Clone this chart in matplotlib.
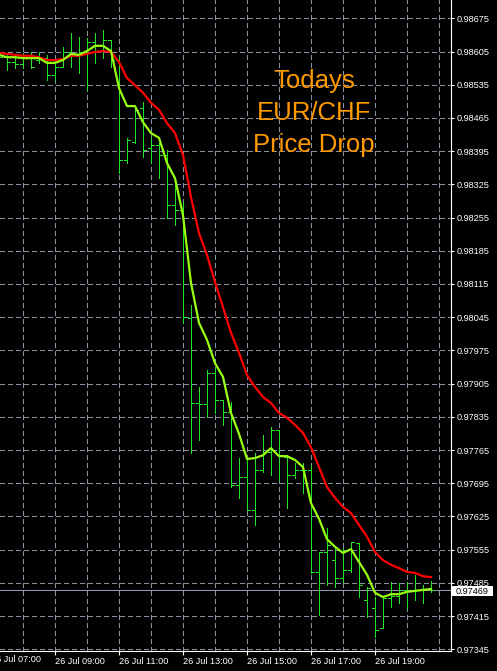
import numpy as np
import matplotlib
matplotlib.use('Agg')
import matplotlib.pyplot as plt
from matplotlib.patches import Rectangle

plt.rcParams['lines.scale_dashes'] = False
plt.rcParams['font.family'] = ['Liberation Sans', 'DejaVu Sans']

# ---------------- data (EUR/CHF, 26 Jul, 15-minute bars) ----------------
bar_time = np.arange(55) * 0.25 + 7.25   # hour of day for each bar

opens = [0.98598, 0.98593, 0.98583, 0.98579, 0.98591, 0.98587, 0.98591, 0.98555, 0.98572, 0.98604,
         0.98598, 0.98604, 0.98625, 0.98619, 0.98629, 0.98587, 0.98376, 0.98414, 0.98486, 0.98402,
         0.98408, 0.98387, 0.98282, 0.98271, 0.98043, 0.97864, 0.97862, 0.97927, 0.97870, 0.97845,
         0.97691, 0.97708, 0.97639, 0.97723, 0.97761, 0.97807, 0.97750, 0.97712, 0.97723, 0.97723,
         0.97508, 0.97550, 0.97533, 0.97495, 0.97512, 0.97569, 0.97449, 0.97432, 0.97390, 0.97453,
         0.97457, 0.97470, 0.97468, 0.97470, 0.97472]
highs = [0.98602, 0.98598, 0.98598, 0.98602, 0.98604, 0.98604, 0.98598, 0.98587, 0.98614, 0.98644,
         0.98636, 0.98633, 0.98644, 0.98650, 0.98629, 0.98593, 0.98423, 0.98490, 0.98499, 0.98425,
         0.98412, 0.98397, 0.98334, 0.98288, 0.98071, 0.97898, 0.97934, 0.97938, 0.97870, 0.97866,
         0.97748, 0.97748, 0.97759, 0.97797, 0.97814, 0.97807, 0.97755, 0.97738, 0.97738, 0.97733,
         0.97550, 0.97601, 0.97558, 0.97558, 0.97571, 0.97569, 0.97476, 0.97455, 0.97455, 0.97487,
         0.97485, 0.97487, 0.97502, 0.97480, 0.97489]
lows = [0.98583, 0.98566, 0.98570, 0.98570, 0.98570, 0.98581, 0.98545, 0.98545, 0.98572, 0.98572,
        0.98560, 0.98524, 0.98581, 0.98591, 0.98572, 0.98349, 0.98370, 0.98412, 0.98383, 0.98370,
        0.98338, 0.98254, 0.98239, 0.98033, 0.97759, 0.97786, 0.97835, 0.97843, 0.97818, 0.97687,
        0.97664, 0.97639, 0.97607, 0.97719, 0.97712, 0.97702, 0.97643, 0.97706, 0.97674, 0.97506,
        0.97417, 0.97480, 0.97476, 0.97487, 0.97508, 0.97455, 0.97413, 0.97371, 0.97390, 0.97434,
        0.97443, 0.97432, 0.97449, 0.97443, 0.97466]
closes = [0.98593, 0.98583, 0.98579, 0.98591, 0.98572, 0.98591, 0.98555, 0.98572, 0.98604, 0.98598,
          0.98604, 0.98625, 0.98619, 0.98629, 0.98587, 0.98376, 0.98419, 0.98482, 0.98397, 0.98408,
          0.98387, 0.98282, 0.98271, 0.98045, 0.97864, 0.97862, 0.97927, 0.97870, 0.97845, 0.97691,
          0.97708, 0.97639, 0.97723, 0.97761, 0.97807, 0.97755, 0.97712, 0.97723, 0.97723, 0.97508,
          0.97550, 0.97565, 0.97495, 0.97512, 0.97571, 0.97480, 0.97474, 0.97386, 0.97453, 0.97457,
          0.97470, 0.97468, 0.97470, 0.97472, 0.97469]

fast_ma = [0.98598, 0.98593, 0.98593, 0.98591, 0.98591, 0.98591, 0.98581, 0.98581, 0.98587, 0.98600,
           0.98598, 0.98606, 0.98617, 0.98617, 0.98606, 0.98528, 0.98490, 0.98490, 0.98456, 0.98433,
           0.98423, 0.98370, 0.98338, 0.98260, 0.98117, 0.98033, 0.97997, 0.97948, 0.97919, 0.97843,
           0.97799, 0.97746, 0.97748, 0.97754, 0.97769, 0.97752, 0.97752, 0.97744, 0.97729, 0.97653,
           0.97620, 0.97577, 0.97561, 0.97548, 0.97556, 0.97529, 0.97502, 0.97464, 0.97455, 0.97461,
           0.97461, 0.97466, 0.97468, 0.97470, 0.97472]
slow_ma = [0.98602, 0.98600, 0.98598, 0.98596, 0.98596, 0.98593, 0.98587, 0.98587, 0.98589, 0.98596,
           0.98596, 0.98600, 0.98604, 0.98606, 0.98604, 0.98583, 0.98549, 0.98534, 0.98518, 0.98497,
           0.98482, 0.98454, 0.98433, 0.98387, 0.98298, 0.98222, 0.98176, 0.98119, 0.98066, 0.98012,
           0.97970, 0.97923, 0.97898, 0.97877, 0.97864, 0.97843, 0.97833, 0.97818, 0.97801, 0.97771,
           0.97729, 0.97687, 0.97664, 0.97645, 0.97632, 0.97607, 0.97582, 0.97550, 0.97533, 0.97523,
           0.97516, 0.97508, 0.97506, 0.97499, 0.97497]

price_ticks = [0.97345, 0.97415, 0.97485, 0.97555, 0.97625, 0.97695, 0.97765, 0.97835, 0.97905,
               0.97975, 0.98045, 0.98115, 0.98185, 0.98255, 0.98325, 0.98395, 0.98465, 0.98535,
               0.98605, 0.98675]
grid_hours = [8, 9, 10, 11, 12, 13, 14, 15, 16, 17, 18, 19, 20, 21]
label_hours = [9, 11, 13, 15, 17, 19]
hour_labels = ['26 Jul 09:00', '26 Jul 11:00', '26 Jul 13:00', '26 Jul 15:00',
               '26 Jul 17:00', '26 Jul 19:00']
first_label = '26 Jul 07:00'
current_price = 0.97469
note_lines = ['Todays', 'EUR/CHF', 'Price Drop']

# ---------------- figure ----------------
W, H = 497, 671
fig = plt.figure(figsize=(W / 100, H / 100), dpi=100, facecolor='black')
ax = fig.add_axes([0, 20 / H, 451 / W, 651 / H], facecolor='black')
ax.set_xlim(7.28125, 21.375)
ax.set_ylim(0.973413, 0.987136)

gridc = '#8a92a4'
dash = (0, (2.9, 2.2))
for t in grid_hours:
    ax.axvline(t, color=gridc, lw=0.6, ls=dash, zorder=1, antialiased=False)
for p in price_ticks:
    ax.axhline(p, color=gridc, lw=0.6, ls=dash, zorder=1, antialiased=False)

ax.axhline(current_price, color='#96a0b4', lw=0.6, zorder=2, antialiased=False)

barc = '#22e622'
hw = 0.09
bt = np.asarray(bar_time)
ax.vlines(bt, lows, highs, color=barc, lw=0.6, zorder=3, antialiased=False)
ax.hlines(opens, bt - hw, bt, color=barc, lw=0.6, zorder=3, antialiased=False)
ax.hlines(closes, bt, bt + hw, color=barc, lw=0.6, zorder=3, antialiased=False)

ax.plot(bt, slow_ma, color='#ff0000', lw=1.6, zorder=4, solid_joinstyle='round')
ax.plot(bt, fast_ma, color='#99ff11', lw=1.6, zorder=5, solid_joinstyle='round')

for s in ['top', 'left']:
    ax.spines[s].set_visible(False)
for s in ['right', 'bottom']:
    ax.spines[s].set_color('white')
    ax.spines[s].set_linewidth(0.8)

ax.yaxis.tick_right()
ax.set_yticks(price_ticks)
ax.set_yticklabels(['%.5f' % p for p in price_ticks])
ax.set_xticks(label_hours)
ax.set_xticklabels(hour_labels)
for lbl in ax.get_xticklabels():
    lbl.set_horizontalalignment('left')
ax.tick_params(axis='y', direction='out', length=2.3, width=0.8, colors='white',
               pad=1.8, labelsize=6.6)
ax.tick_params(axis='x', direction='out', length=2.9, width=0.8, colors='white',
               pad=1.2, labelsize=6.6)

ax.text(7.0, -0.0068, first_label, transform=ax.get_xaxis_transform(), ha='left', va='top',
        color='white', fontsize=6.6, clip_on=False)

# current price box
fig.add_artist(Rectangle((452 / W, (H - 596) / H), 41 / W, 10 / H, transform=fig.transFigure,
                         facecolor='white', edgecolor='none', zorder=5))
fig.text(456 / W, 1 - 591 / H, '%.5f' % current_price, ha='left', va='center',
         color='black', fontsize=6.6, zorder=6)

baselines = [87.7, 120.0, 151.7]
for line, yb in zip(note_lines, baselines):
    fig.text(314 / W, 1 - yb / H, line, ha='center', va='baseline', fontsize=18.5,
             color='#ff9900', family='Liberation Sans')

fig.savefig('out.png', dpi=100, facecolor='black')
